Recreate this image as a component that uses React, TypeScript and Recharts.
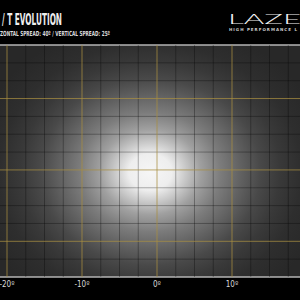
import {
  ComposedChart,
  XAxis,
  YAxis,
  Scatter,
  ReferenceArea,
  ReferenceLine,
} from "recharts";

// beam pattern grid, degrees
const X_DOMAIN = [-30, 30];
const Y_DOMAIN = [-15, 17.5];
const X_MAJOR = [-30, -20, -10, 0, 10, 20, 30];
const X_LABELS = [-20, -10, 0, 10];
const Y_MAJOR = [-10, 0, 10];
const X_MINOR = [
  -27.5, -25, -22.5, -17.5, -15, -12.5, -7.5, -5, -2.5, 2.5, 5, 7.5, 12.5, 15,
  17.5, 22.5, 25, 27.5,
];
const Y_MINOR = [-12.5, -7.5, -5, -2.5, 2.5, 5, 7.5, 12.5, 15];

// beam centre and half-size of the lit field (h, v degrees)
const BEAM_CENTER = [-0.9, -0.3];
const GLOW_HALF = [24, 21.4];

const MAJOR = "#a88f42";
const MINOR = "#000";
const BG = "#282828";

export default function App() {
  const [cx, cy] = BEAM_CENTER;
  const center = [{ x: cx, y: cy }];

  return (
    <div
      style={{
        position: "fixed",
        left: 0,
        top: 0,
        width: 300,
        height: 300,
        background: "#000",
        overflow: "hidden",
      }}
    >
      {/* header: title, spreads, logo */}
      <svg
        width={300}
        height={45}
        style={{ position: "absolute", left: 0, top: 0 }}
      >
        <text
          x={2}
          y={25}
          fill="#eeeeee"
          fontSize={15}
          fontWeight="bold"
          fontFamily="'Liberation Sans Narrow', 'DejaVu Sans Condensed', sans-serif"
          textLength={60}
          lengthAdjust="spacingAndGlyphs"
        >
          / T EVOLUTION
        </text>
        <text
          x={0}
          y={35.5}
          fill="#dddddd"
          fontSize={7}
          fontWeight="bold"
          fontFamily="'Liberation Sans Narrow', 'DejaVu Sans Condensed', sans-serif"
          textLength={110}
          lengthAdjust="spacingAndGlyphs"
        >
          ZONTAL SPREAD: 40º / VERTICAL SPREAD: 25º
        </text>
        <text
          x={228}
          y={24}
          fill="#f2f2f2"
          fontSize={14}
          fontWeight={300}
          fontFamily="Lato, sans-serif"
          textLength={92}
          lengthAdjust="spacingAndGlyphs"
        >
          LAZER
        </text>
        <text
          x={229}
          y={31}
          fill="#cccccc"
          fontSize={4}
          fontWeight="bold"
          fontFamily="'DejaVu Sans', sans-serif"
          textLength={68}
          lengthAdjust="spacing"
        >
          HIGH PERFORMANCE L
        </text>
      </svg>

      <div style={{ position: "absolute", left: -68, top: 0 }}>
        <ComposedChart
          width={450}
          height={300}
          data={center}
          margin={{ top: 45, right: 0, bottom: 0, left: 0 }}
        >
          <defs>
            <radialGradient id="glow" cx="0.5" cy="0.5" r="0.5">
              <stop offset="0" stopColor="#f6f6f6" />
              <stop offset="0.12" stopColor="#eeeeee" />
              <stop offset="0.19" stopColor="#cccccc" />
              <stop offset="0.28" stopColor="#a0a0a0" />
              <stop offset="0.39" stopColor="#7c7c7c" />
              <stop offset="0.5" stopColor="#626262" />
              <stop offset="0.61" stopColor="#494949" />
              <stop offset="0.72" stopColor="#393939" />
              <stop offset="0.84" stopColor="#2e2e2e" />
              <stop offset="1" stopColor={BG} />
            </radialGradient>
          </defs>
          <XAxis
            type="number"
            dataKey="x"
            domain={X_DOMAIN}
            ticks={X_LABELS}
            allowDataOverflow
            height={23}
            axisLine={false}
            tickLine={false}
            tickSize={0}
            tickMargin={4}
            tickFormatter={(v: number) => `${v}º`}
            tick={{
              fill: "#d8d8d8",
              fontSize: 8,
              fontFamily: "'DejaVu Sans Condensed', sans-serif",
            }}
          />
          <YAxis
            type="number"
            dataKey="y"
            domain={Y_DOMAIN}
            allowDataOverflow
            hide
          />

          {/* plot background and beam light */}
          <ReferenceArea
            x1={X_DOMAIN[0]}
            x2={X_DOMAIN[1]}
            y1={Y_DOMAIN[0]}
            y2={Y_DOMAIN[1]}
            fill={BG}
            fillOpacity={1}
            stroke="none"
          />
          <ReferenceArea
            x1={cx - GLOW_HALF[0]}
            x2={cx + GLOW_HALF[0]}
            y1={cy - GLOW_HALF[1]}
            y2={cy + GLOW_HALF[1]}
            ifOverflow="hidden"
            fill="url(#glow)"
            fillOpacity={1}
            stroke="none"
          />

          {/* minor grid every 2.5° */}
          {X_MINOR.map((v) => (
            <ReferenceLine key={`xm${v}`} x={v} stroke={MINOR} strokeOpacity={0.3} />
          ))}
          {Y_MINOR.map((v) => (
            <ReferenceLine key={`ym${v}`} y={v} stroke={MINOR} strokeOpacity={0.3} />
          ))}

          {/* major grid every 10° */}
          {X_MAJOR.map((v) => (
            <ReferenceLine key={`xM${v}`} x={v} stroke={MAJOR} strokeOpacity={0.75} />
          ))}
          {Y_MAJOR.map((v) => (
            <ReferenceLine key={`yM${v}`} y={v} stroke={MAJOR} strokeOpacity={0.75} />
          ))}

          {/* frame */}
          <ReferenceArea
            x1={X_DOMAIN[0]}
            x2={X_DOMAIN[1]}
            y1={Y_DOMAIN[0]}
            y2={Y_DOMAIN[1]}
            fill="none"
            stroke="#b4b4b4"
            strokeWidth={1.5}
          />

          {/* beam centre, not drawn */}
          <Scatter
            data={center}
            dataKey="y"
            fill="none"
            shape={() => <g />}
            isAnimationActive={false}
          />
        </ComposedChart>
      </div>
    </div>
  );
}
